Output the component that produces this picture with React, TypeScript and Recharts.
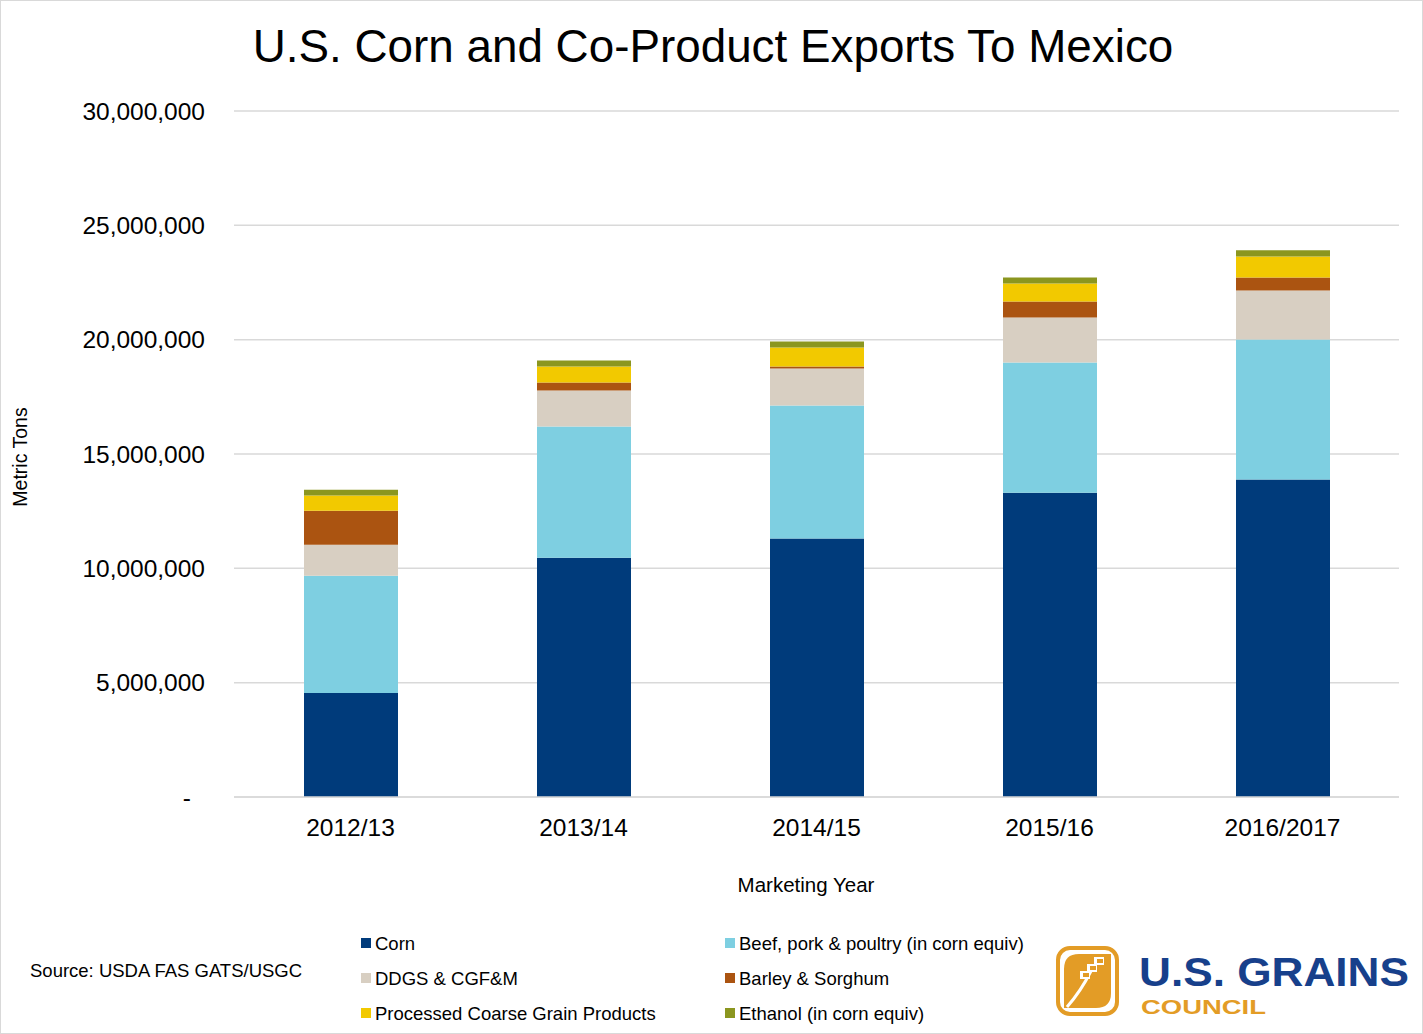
import React from "react";
import { Bar, BarChart, CartesianGrid, Label, XAxis, YAxis } from "recharts";

const years = ["2012/13", "2013/14", "2014/15", "2015/16", "2016/2017"];
const corn = [4550000, 10460000, 11300000, 13310000, 13880000];
const meat = [5130000, 5740000, 5820000, 5690000, 6130000];
const ddgs = [1350000, 1580000, 1620000, 1970000, 2140000];
const barleySorghum = [1490000, 350000, 90000, 700000, 570000];
const processed = [660000, 700000, 830000, 790000, 920000];
const ethanol = [260000, 260000, 260000, 260000, 270000];

const yTicks = [0, 5000000, 10000000, 15000000, 20000000, 25000000, 30000000];

const seriesKeys = ["corn", "meat", "ddgs", "barley", "processed", "ethanol"];
const seriesNames = [
  "Corn",
  "Beef, pork & poultry (in corn equiv)",
  "DDGS & CGF&M",
  "Barley & Sorghum",
  "Processed Coarse Grain Products",
  "Ethanol (in corn equiv)",
];
const seriesColors = ["#003B7B", "#7ECFE1", "#D8CFC2", "#AB5411", "#F2C900", "#8B961F"];

const data = years.map((year, i) => ({
  year,
  corn: corn[i],
  meat: meat[i],
  ddgs: ddgs[i],
  barley: barleySorghum[i],
  processed: processed[i],
  ethanol: ethanol[i],
}));

const FONT = "'Liberation Sans', Arial, sans-serif";

function YTick({ x, y, payload }: any) {
  const v = payload.value as number;
  return (
    <text
      x={v === 0 ? x - 14 : x}
      y={y}
      dy="0.355em"
      textAnchor="end"
      fontSize={24.5}
      fill="#000"
      fontFamily={FONT}
    >
      {v === 0 ? "-" : v.toLocaleString("en-US")}
    </text>
  );
}

function Overlay() {
  const legendX = [360, 724];
  const legendY = [942, 977, 1012];
  return (
    <svg
      width={1423}
      height={1034}
      style={{ position: "absolute", left: 0, top: 0, pointerEvents: "none" }}
      fontFamily={FONT}
    >
      <text x={712} y={61} textAnchor="middle" fontSize={45.8} fill="#000">
        U.S. Corn and Co-Product Exports To Mexico
      </text>
      <text x={29} y={976} fontSize={18.5} fill="#000">
        Source: USDA FAS GATS/USGC
      </text>
      {seriesNames.map((name, i) => {
        const lx = legendX[i % 2];
        const ly = legendY[Math.floor(i / 2)];
        return (
          <g key={name}>
            <rect x={lx} y={ly - 5} width={10} height={10} fill={seriesColors[i]} />
            <text x={lx + 14} y={ly + 7} fontSize={18.5} fill="#000">
              {name}
            </text>
          </g>
        );
      })}
      {/* U.S. Grains Council logo */}
      <g>
        <rect x={1057} y={947} width={59} height={66} rx={12} fill="#fff" stroke="#E39C26" strokeWidth={4} />
        <path
          d="M1063 1007 L1063 968 Q1063 953 1078 953 L1110 953 L1110 992 Q1110 1007 1095 1007 Z"
          fill="#E39C26"
        />
        <path d="M1066 1006 Q1080 990 1090 970" stroke="#fff" strokeWidth={3} fill="none" />
        <rect x={1079} y={970} width={10} height={8} fill="#fff" />
        <rect x={1086} y={963} width={10} height={8} fill="#fff" />
        <rect x={1093} y={956} width={10} height={8} fill="#fff" />
        <rect x={1082} y={972} width={6} height={4} fill="#E39C26" />
        <rect x={1089} y={965} width={6} height={4} fill="#E39C26" />
        <rect x={1096} y={958} width={6} height={4} fill="#E39C26" />
        <text
          x={1138}
          y={985}
          fontSize={40}
          fontWeight="bold"
          fill="#17408B"
          textLength={270}
          lengthAdjust="spacingAndGlyphs"
        >
          U.S. GRAINS
        </text>
        <text
          x={1140}
          y={1013}
          fontSize={21}
          fontWeight="bold"
          fill="#E39C26"
          textLength={125}
          lengthAdjust="spacingAndGlyphs"
        >
          COUNCIL
        </text>
      </g>
    </svg>
  );
}

export default function App() {
  return (
    <div
      style={{
        position: "absolute",
        left: 0,
        top: 0,
        width: 1423,
        height: 1034,
        background: "#fff",
        border: "1px solid #D9D9D9",
        boxSizing: "border-box",
        fontFamily: FONT,
      }}
    >
      <div style={{ position: "absolute", left: -1, top: -1 }}>
        <BarChart
          width={1423}
          height={1034}
          data={data}
          margin={{ top: 111, right: 24, left: 0, bottom: 207 }}
          barSize={94}
        >
          <CartesianGrid vertical={false} stroke="#D9D9D9" strokeWidth={1.5} />
          <XAxis
            dataKey="year"
            height={30}
            tickLine={false}
            tickSize={0}
            tickMargin={22}
            axisLine={{ stroke: "#D9D9D9", strokeWidth: 1.5 }}
            tick={{ fontSize: 24.5, fill: "#000", fontFamily: FONT }}
          >
            <Label
              content={() => (
                <text x={806} y={892} textAnchor="middle" fontSize={20.5} fill="#000" fontFamily={FONT}>
                  Marketing Year
                </text>
              )}
            />
          </XAxis>
          <YAxis
            width={234}
            domain={[0, 30000000]}
            ticks={yTicks}
            interval={0}
            axisLine={false}
            tickLine={false}
            tickSize={0}
            tickMargin={29}
            tick={<YTick />}
          >
            <Label
              content={() => (
                <text
                  x={27}
                  y={457}
                  transform="rotate(-90 27 457)"
                  textAnchor="middle"
                  fontSize={19.5}
                  fill="#000"
                  fontFamily={FONT}
                >
                  Metric Tons
                </text>
              )}
            />
          </YAxis>
          {seriesKeys.map((key, i) => (
            <Bar
              key={key}
              dataKey={key}
              name={seriesNames[i]}
              stackId="a"
              fill={seriesColors[i]}
              isAnimationActive={false}
            />
          ))}
        </BarChart>
      </div>
      <Overlay />
    </div>
  );
}
